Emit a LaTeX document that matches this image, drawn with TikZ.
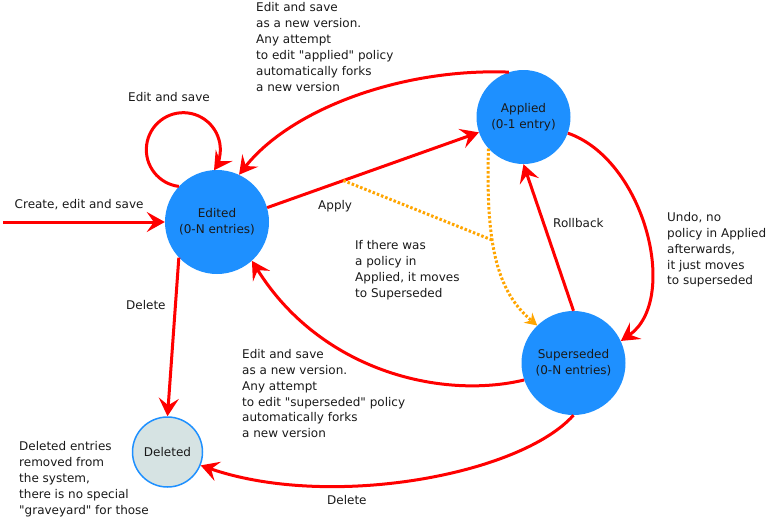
\documentclass[tikz,border=0pt]{standalone}
\usepackage{fontspec}
\setmainfont{DejaVu Sans}[Ligatures=TeXOff]
\usetikzlibrary{arrows.meta}
\definecolor{stateblue}{HTML}{1E90FF}
\definecolor{delfill}{HTML}{D6E3E3}
\definecolor{edgered}{HTML}{FF0000}
\definecolor{dotorange}{HTML}{FFA500}
\newcommand{\dlabelfont}{\fontsize{12}{15.9}\selectfont}
\begin{document}
\begin{tikzpicture}[x=1pt,y=1pt,
  state/.style={circle, fill=stateblue, inner sep=0pt, align=center, font=\dlabelfont, text=black!90},
  lbl/.style={anchor=north west, inner sep=0pt, align=left, font=\dlabelfont, text=black!90},
  edge/.style={draw=edgered, line width=3pt, -{Stealth[length=18pt,width=20pt,inset=7pt]}},
  dotline/.style={draw=dotorange, line width=3pt, dash pattern=on 2.5pt off 2pt},
]
\useasboundingbox (0,0) rectangle (768,-523);

% states
\node[state, minimum size=104pt] (ed) at (217,-222) {Edited\\(0-N entries)};
\node[state, minimum size=94pt] (ap) at (523.5,-117) {Applied\\(0-1 entry)};
\node[state, minimum size=104pt] (sp) at (573.5,-363) {Superseded\\(0-N entries)};
\node[circle, draw=stateblue, line width=1.5pt, fill=delfill, minimum size=70pt, inner sep=0pt, font=\dlabelfont, text=black!90] (del) at (167.5,-452) {Deleted};

% connectors
\coordinate (start) at (3,-222);
\draw[edge] (start) -- (ed.west);
\draw[edge] (ed.137) arc[start angle=-97, end angle=-394, radius=37];
\draw[edge] (ed.16) -- coordinate[pos=0.36] (A) (ap.199);
\draw[edge] (ap.108) .. controls (400,-68) and (290,-110) .. (ed.65);
\draw[edge] (ap.-20) .. controls (645,-160) and (680,-300) .. (sp.25);
\draw[edge] (sp.north) -- (ap.south);
\draw[edge] (sp.199) .. controls (440,-400) and (320,-370) .. (ed.-48);
\draw[edge] (ed.223.5) -- (del.north);
\draw[edge] (sp.-90) .. controls (520,-475) and (330,-510) .. (del.-22);
\draw[dotline, -{Stealth[length=12pt,width=13pt,inset=4pt]}] (ap.222) .. controls (486,-240) and (495,-290) .. coordinate[pos=0.4] (J) (sp.134);
\draw[dotline] (A) -- (J);

% labels
\node[lbl] (t1) at (256,-2.5) {Edit and save\\as a new version.\\Any attempt\\to edit "applied" policy\\automatically forks\\a new version};
\node[lbl] (t2) at (128,-92) {Edit and save};
\node[lbl] (t3) at (14.5,-199) {Create, edit and save};
\node[lbl] (t4) at (318,-200.5) {Apply};
\node[lbl] (t5) at (355,-240) {If there was\\a policy in\\Applied, it moves\\to Superseded};
\node[lbl] (t6) at (553,-218) {Rollback};
\node[lbl] (t7) at (667,-212) {Undo, no\\policy in Applied\\afterwards,\\it just moves\\to superseded};
\node[lbl] (t8) at (126,-300) {Delete};
\node[lbl] (t9) at (242,-349) {Edit and save\\as a new version.\\Any attempt\\to edit "superseded" policy\\automatically forks\\a new version};
\node[lbl] (t10) at (19,-441.5) {Deleted entries\\removed from\\the system,\\there is no special\\"graveyard" for those};
\node[lbl] (t11) at (327,-495.5) {Delete};
\end{tikzpicture}
\end{document}
